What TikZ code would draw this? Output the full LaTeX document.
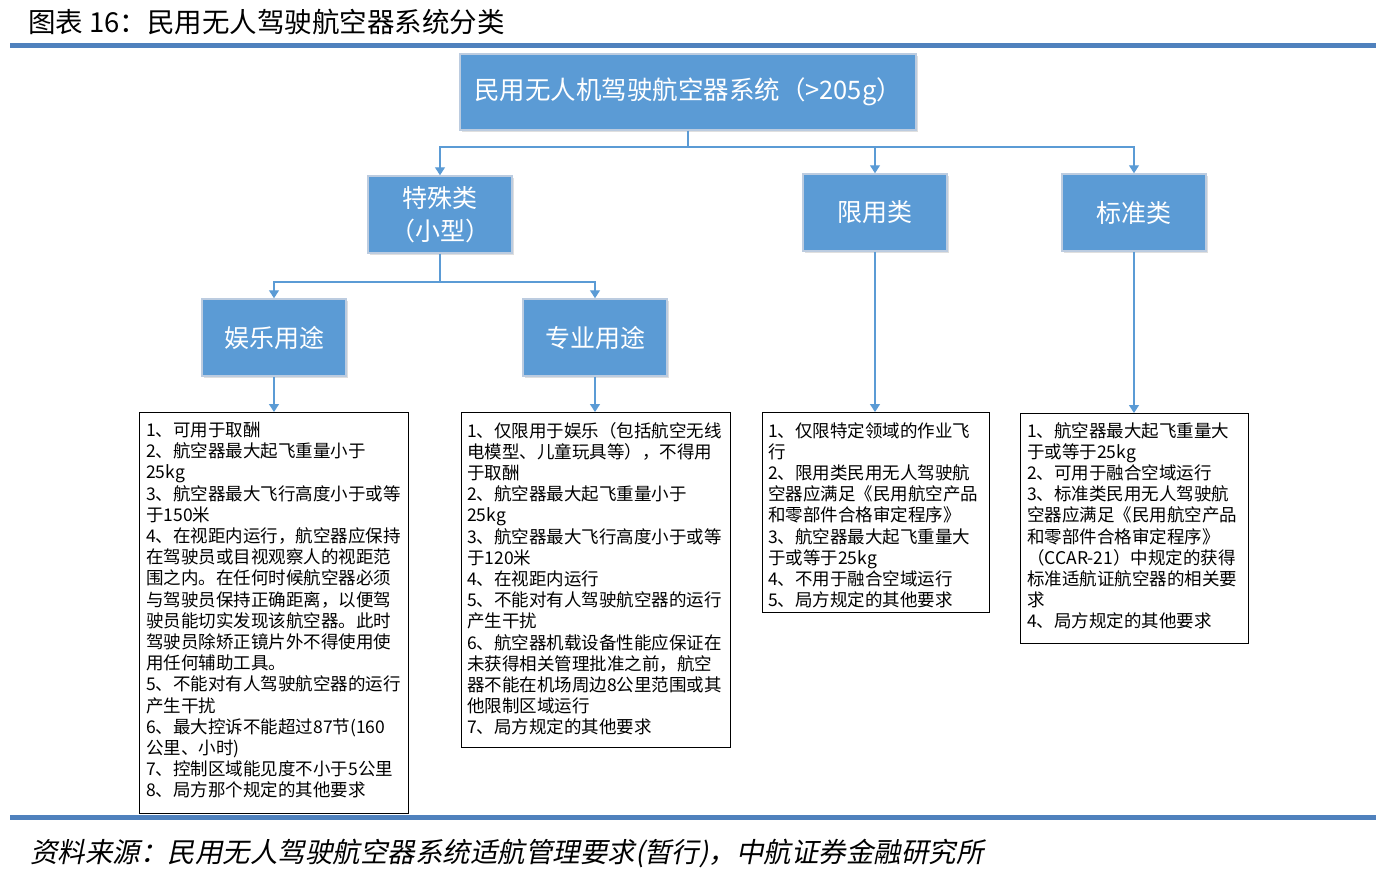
\documentclass[tikz,border=0pt]{standalone}
\usepackage{fontspec}
\setmainfont{Noto Sans CJK SC}
\newfontfamily\cjkit[FakeSlant=0.2]{Noto Sans CJK SC}
\usetikzlibrary{arrows.meta,shadows}
\definecolor{boxblue}{HTML}{5B9BD5}
\definecolor{boxedge}{HTML}{BCCCE0}
\definecolor{rulecol}{HTML}{4F81BD}
\definecolor{conncol}{HTML}{5B9BD5}
\tikzset{
  catbox/.style={draw=boxedge, line width=1.5pt, fill=boxblue, text=white,
    font=\fontsize{25}{33}\selectfont, align=center, inner sep=0pt,
    minimum width=144pt, minimum height=77pt,
    drop shadow={opacity=0.25, shadow xshift=1.5pt, shadow yshift=-2pt}},
  listbox/.style={draw=black, line width=1pt, fill=white, anchor=north west, inner sep=0pt},
  listtext/.style={anchor=north west, inner sep=0pt, align=left,
    font=\fontsize{17.5}{21.2}\selectfont},
  conn/.style={draw=conncol, line width=1.3pt},
  arr/.style={conn, -{Triangle[width=10pt,length=8pt]}},
  rulebar/.style={draw=rulecol, line width=5pt}
}
\begin{document}
\begin{tikzpicture}[x=1pt,y=-1pt]
\useasboundingbox (0,0) rectangle (1384,875);

% title and rules
\node[anchor=west, inner sep=0pt, font=\fontsize{27.5}{27.5}\selectfont] (title) at (28,22) {图表 16：民用无人驾驶航空器系统分类};
\draw[rulebar] (10,45.5) -- (1376,45.5);
\draw[rulebar] (10,817.5) -- (1376,817.5);
\node[anchor=west, inner sep=0pt, font=\cjkit\fontsize{27.5}{27.5}\selectfont] (src) at (30,853) {资料来源：民用无人驾驶航空器系统适航管理要求(暂行)，中航证券金融研究所};

% category boxes
\node[catbox, minimum width=456pt, minimum height=76pt, font=\fontsize{25.5}{30}\selectfont] (top) at (688,92) {民用无人机驾驶航空器系统（>205g）};
\node[catbox] (spec) at (440,214.5) {特殊类\\（小型）};
\node[catbox] (xian) at (875,212.5) {限用类};
\node[catbox] (biao) at (1134,212.5) {标准类};
\node[catbox] (yl) at (274,337.5) {娱乐用途};
\node[catbox] (zy) at (595,337.5) {专业用途};

% list boxes
\node[listbox, minimum width=269pt, minimum height=401pt] (b1) at (139,412) {};
\node[listbox, minimum width=269pt, minimum height=335pt] (b2) at (461,412) {};
\node[listbox, minimum width=227pt, minimum height=200pt] (b3) at (762,412) {};
\node[listbox, minimum width=228pt, minimum height=230pt] (b4) at (1020,413) {};

\node[listtext] (t1) at ([xshift=7pt,yshift=-10pt]b1.north west) {1、可用于取酬\\
2、航空器最大起飞重量小于\\
25kg\\
3、航空器最大飞行高度小于或等\\
于150米\\
4、在视距内运行，航空器应保持\\
在驾驶员或目视观察人的视距范\\
围之内。在任何时候航空器必须\\
与驾驶员保持正确距离，以便驾\\
驶员能切实发现该航空器。此时\\
驾驶员除矫正镜片外不得使用使\\
用任何辅助工具。\\
5、不能对有人驾驶航空器的运行\\
产生干扰\\
6、最大控诉不能超过87节(160\\
公里、小时)\\
7、控制区域能见度不小于5公里\\
8、局方那个规定的其他要求};

\node[listtext] (t2) at ([xshift=6pt,yshift=-10pt]b2.north west) {1、仅限用于娱乐（包括航空无线\\
电模型、儿童玩具等），不得用\\
于取酬\\
2、航空器最大起飞重量小于\\
25kg\\
3、航空器最大飞行高度小于或等\\
于120米\\
4、在视距内运行\\
5、不能对有人驾驶航空器的运行\\
产生干扰\\
6、航空器机载设备性能应保证在\\
未获得相关管理批准之前，航空\\
器不能在机场周边8公里范围或其\\
他限制区域运行\\
7、局方规定的其他要求};

\node[listtext] (t3) at ([xshift=6pt,yshift=-10pt]b3.north west) {1、仅限特定领域的作业飞\\
行\\
2、限用类民用无人驾驶航\\
空器应满足《民用航空产品\\
和零部件合格审定程序》\\
3、航空器最大起飞重量大\\
于或等于25kg\\
4、不用于融合空域运行\\
5、局方规定的其他要求};

\node[listtext] (t4) at ([xshift=7pt,yshift=-9pt]b4.north west) {1、航空器最大起飞重量大\\
于或等于25kg\\
2、可用于融合空域运行\\
3、标准类民用无人驾驶航\\
空器应满足《民用航空产品\\
和零部件合格审定程序》\\
（CCAR-21）中规定的获得\\
标准适航证航空器的相关要\\
求\\
4、局方规定的其他要求};

% connectors
\coordinate (bus1) at (0,147);
\coordinate (bus2) at (0,282);
\draw[arr] (top.south) -- (top.south |- bus1) -| (spec.north);
\draw[arr] (top.south) -- (top.south |- bus1) -| (xian.north);
\draw[arr] (top.south) -- (top.south |- bus1) -| (biao.north);
\draw[arr] (spec.south) -- (spec.south |- bus2) -| (yl.north);
\draw[arr] (spec.south) -- (spec.south |- bus2) -| (zy.north);
\draw[arr] (yl.south) -- (yl.south |- b1.north);
\draw[arr] (zy.south) -- (zy.south |- b2.north);
\draw[arr] (xian.south) -- (xian.south |- b3.north);
\draw[arr] (biao.south) -- (biao.south |- b4.north);
\end{tikzpicture}
\end{document}
